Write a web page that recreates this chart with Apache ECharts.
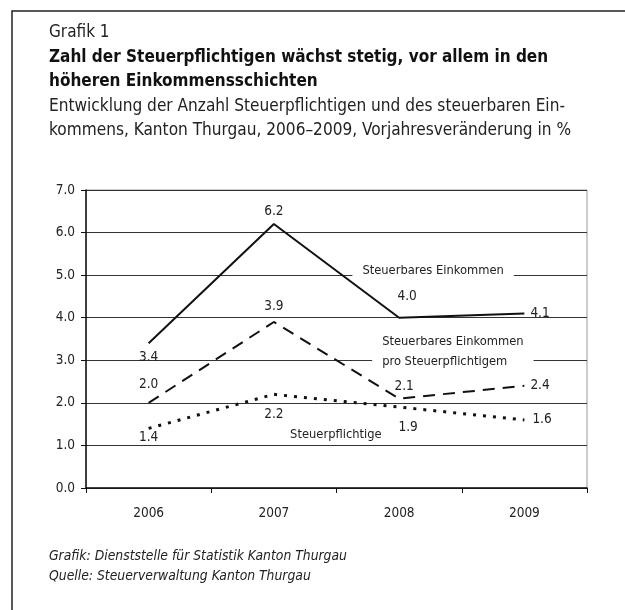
<!DOCTYPE html>
<html>
<head>
<meta charset="utf-8">
<script src="https://cdn.jsdelivr.net/npm/echarts@6/dist/echarts.min.js"></script>
<style>
  html, body { margin: 0; padding: 0; background: #fff; }
  #chart { width: 625px; height: 610px; }
</style>
</head>
<body>
<div id="chart"></div>
<script>
// Daten
const years = ['2006', '2007', '2008', '2009'];
const einkommen = [3.4, 6.2, 4.0, 4.1];
const einkommenProPflichtigem = [2.0, 3.9, 2.1, 2.4];
const steuerpflichtige = [1.4, 2.2, 1.9, 1.6];
const yTicks = [0, 1, 2, 3, 4, 5, 6, 7];

const FONT = "'Liberation Sans Narrow', 'DejaVu Sans Condensed', 'Arial Narrow', sans-serif";
const NUM_SIZE = 13.5;

const labelBase = {
  show: true,
  fontFamily: FONT,
  fontSize: NUM_SIZE,
  color: '#222',
  formatter: p => Number(p.value).toFixed(1)
};

// Beschriftungen je Punkt
function withLabels(values, specs) {
  return values.map((v, i) => ({
    value: v,
    label: Object.assign({}, labelBase, specs[i])
  }));
}

const chartOption = {
  animation: false,
  backgroundColor: '#fff',
  textStyle: { fontFamily: FONT },
  title: [
    {
      text: 'Grafik 1',
      left: 49, top: 21, padding: 0,
      textStyle: { fontFamily: FONT, fontSize: 17, fontWeight: 'normal', color: '#222', lineHeight: 24 }
    },
    {
      text: 'Zahl der Steuerpflichtigen wächst stetig, vor allem in den\nhöheren Einkommensschichten',
      left: 49, top: 46, padding: 0,
      textStyle: { fontFamily: FONT, fontSize: 17, fontWeight: 'bold', color: '#111', lineHeight: 23.8 }
    },
    {
      text: 'Entwicklung der Anzahl Steuerpflichtigen und des steuerbaren Ein-\nkommens, Kanton Thurgau, 2006–2009, Vorjahresveränderung in %',
      left: 49, top: 95, padding: 0,
      textStyle: { fontFamily: FONT, fontSize: 17.1, fontWeight: 'normal', color: '#222', lineHeight: 24 }
    },
    {
      text: 'Grafik: Dienststelle für Statistik Kanton Thurgau\nQuelle: Steuerverwaltung Kanton Thurgau',
      left: 49, top: 546, padding: 0,
      textStyle: { fontFamily: FONT, fontSize: 13.8, fontStyle: 'italic', fontWeight: 'normal', color: '#222', lineHeight: 20 }
    }
  ],
  graphic: [
    {
      type: 'rect',
      shape: { x: 12, y: 11, width: 700, height: 700 },
      style: { fill: 'none', stroke: '#222', lineWidth: 1.5 }
    }
  ],
  grid: {
    left: 86, right: 38, top: 190, bottom: 122,
    show: true, borderColor: '#999', borderWidth: 1
  },
  xAxis: {
    type: 'category',
    data: years,
    boundaryGap: true,
    axisLine: { lineStyle: { color: '#111', width: 1.5 } },
    axisTick: { show: true, length: 5, lineStyle: { color: '#111' } },
    axisLabel: { fontFamily: FONT, fontSize: NUM_SIZE, color: '#222', margin: 18 }
  },
  yAxis: {
    type: 'value',
    min: yTicks[0],
    max: yTicks[yTicks.length - 1],
    interval: 1,
    axisLine: { show: true, lineStyle: { color: '#111', width: 1.5 } },
    axisTick: { show: true, length: 5, lineStyle: { color: '#111' } },
    axisLabel: { fontFamily: FONT, fontSize: NUM_SIZE, color: '#222', margin: 11, formatter: v => v.toFixed(1) },
    splitLine: { lineStyle: { color: '#333', width: 1 } }
  },
  series: [
    {
      name: 'Steuerbares Einkommen',
      type: 'line',
      data: withLabels(einkommen, [
        { position: 'bottom', distance: 7 },
        { position: 'top', distance: 6 },
        { position: 'top', distance: 14, offset: [8, 0] },
        { position: 'right', distance: 6 }
      ]),
      symbol: 'circle',
      symbolSize: 0,
      showSymbol: true,
      lineStyle: { color: '#111', width: 2 },
      z: 5,
      markPoint: {
        symbol: 'rect',
        symbolSize: 0,
        data: [{
          coord: ['2008', 5.1],
          label: {
            show: true, formatter: 'Steuerbares Einkommen',
            fontFamily: FONT, fontSize: 12.8, color: '#222',
            offset: [34, 0], backgroundColor: '#fff', padding: [2, 10]
          }
        }]
      }
    },
    {
      name: 'Steuerbares Einkommen pro Steuerpflichtigem',
      type: 'line',
      data: withLabels(einkommenProPflichtigem, [
        { position: 'top', distance: 11 },
        { position: 'top', distance: 8 },
        { position: 'top', distance: 5, offset: [5, 0] },
        { position: 'right', distance: 6 }
      ]),
      symbol: 'circle',
      symbolSize: 0,
      showSymbol: true,
      lineStyle: { color: '#111', width: 2, type: [12, 8] },
      z: 4,
      markPoint: {
        symbol: 'rect',
        symbolSize: 0,
        data: [{
          coord: ['2008', 3.2],
          label: {
            show: true, formatter: 'Steuerbares Einkommen\npro Steuerpflichtigem',
            fontFamily: FONT, fontSize: 12.8, color: '#222', lineHeight: 20,
            align: 'left', offset: [-27, 0],
            backgroundColor: '#fff', padding: [0, 10, 0, 10]
          }
        }]
      }
    },
    {
      name: 'Steuerpflichtige',
      type: 'line',
      data: withLabels(steuerpflichtige, [
        { position: 'bottom', distance: 2 },
        { position: 'bottom', distance: 13 },
        { position: 'bottom', distance: 13, offset: [9, 0] },
        { position: 'right', distance: 8 }
      ]),
      symbol: 'circle',
      symbolSize: 0,
      showSymbol: true,
      lineStyle: { color: '#111', width: 3, type: [3, 7] },
      z: 3,
      markPoint: {
        symbol: 'rect',
        symbolSize: 0,
        data: [{
          coord: ['2007', 1.25],
          label: {
            show: true, formatter: 'Steuerpflichtige',
            fontFamily: FONT, fontSize: 12.8, color: '#222',
            offset: [62, 0]
          }
        }]
      }
    }
  ]
};

const chart = echarts.init(document.getElementById('chart'), null, { renderer: 'canvas' });
chart.setOption(chartOption);
</script>
</body>
</html>
